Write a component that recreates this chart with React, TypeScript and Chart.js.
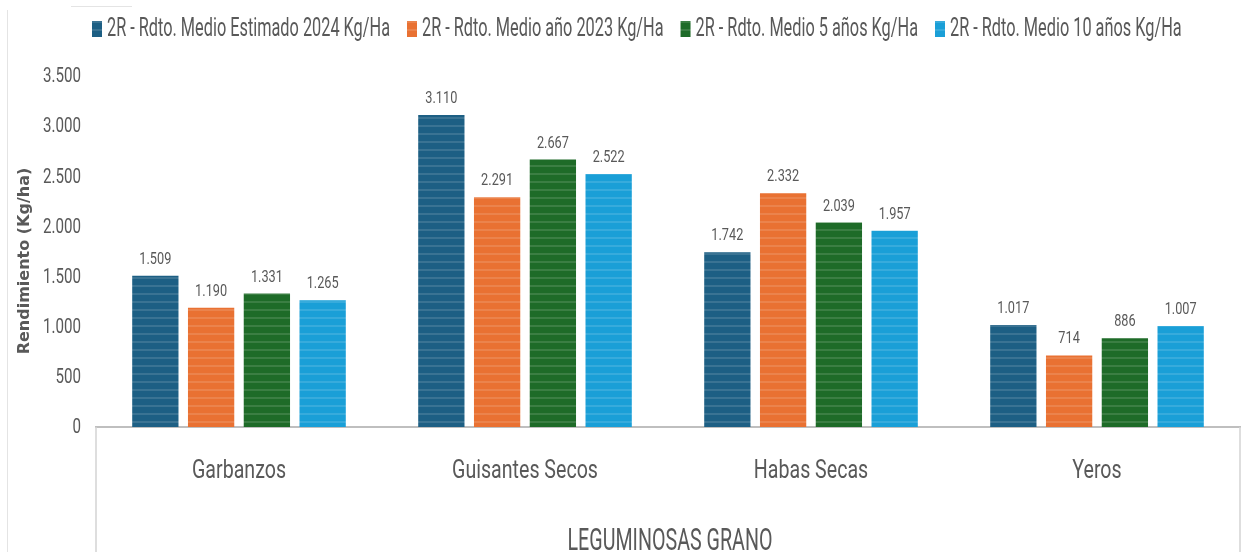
import React, { useEffect, useRef } from 'react';
import { Chart, registerables } from 'chart.js';

Chart.register(...registerables);

const categories = ['Garbanzos', 'Guisantes Secos', 'Habas Secas', 'Yeros'];
const seriesLabels = [
  '2R - Rdto. Medio Estimado 2024 Kg/Ha',
  '2R - Rdto. Medio año 2023 Kg/Ha',
  '2R - Rdto. Medio 5 años Kg/Ha',
  '2R - Rdto. Medio 10 años Kg/Ha',
];
const est2024 = [1509, 3110, 1742, 1017];
const year2023 = [1190, 2291, 2332, 714];
const avg5 = [1331, 2667, 2039, 886];
const avg10 = [1265, 2522, 1957, 1007];
const seriesValues = [est2024, year2023, avg5, avg10];
const seriesColors = ['#1D5F84', '#E97132', '#1E6B28', '#1A9FD7'];
const yMin = 0;
const yMax = 3500;
const yStep = 500;
const yTitle = 'Rendimiento (Kg/ha)';
const xTitle = 'LEGUMINOSAS GRANO';

const FONT = "Roboto, 'Noto Sans', sans-serif";
const TEXT = '#595959';

const fmt = (v: number) => String(Math.round(v)).replace(/\B(?=(\d{3})+(?!\d))/g, '.');

function stripe(color: string): CanvasPattern | string {
  const c = document.createElement('canvas');
  c.width = 8;
  c.height = 8;
  const g = c.getContext('2d');
  if (!g) return color;
  g.fillStyle = color;
  g.fillRect(0, 0, 8, 8);
  g.fillStyle = 'rgba(255,255,255,0.13)';
  g.fillRect(0, 5, 8, 2);
  return g.createPattern(c, 'repeat') || color;
}

// draw text horizontally condensed (narrow face look)
function narrowText(
  ctx: CanvasRenderingContext2D,
  text: string,
  x: number,
  y: number,
  size: number,
  sx: number,
  align: CanvasTextAlign,
  baseline: CanvasTextBaseline,
  weight = 'normal',
) {
  ctx.save();
  ctx.font = `${weight} ${size}px ${FONT}`;
  ctx.textAlign = align;
  ctx.textBaseline = baseline;
  ctx.translate(x, y);
  ctx.scale(sx, 1);
  ctx.fillText(text, 0, 0);
  ctx.restore();
}

function widthFactor(ctx: CanvasRenderingContext2D, text: string, size: number, target: number) {
  ctx.save();
  ctx.font = `normal ${size}px ${FONT}`;
  const w = ctx.measureText(text).width;
  ctx.restore();
  return w > 0 ? target / w : 1;
}

const decorPlugin = {
  id: 'decor',
  afterDraw(chart: any) {
    const { ctx, chartArea, height } = chart;
    ctx.save();
    // box lines below axis
    ctx.strokeStyle = '#D3D3D3';
    ctx.lineWidth = 1.5;
    ctx.beginPath();
    ctx.moveTo(chartArea.left, chartArea.bottom);
    ctx.lineTo(chartArea.left, height);
    ctx.moveTo(chartArea.right, chartArea.bottom);
    ctx.lineTo(chartArea.right, height);
    ctx.stroke();
    // faint frame remnants
    ctx.strokeStyle = '#E4E4E4';
    ctx.lineWidth = 1;
    ctx.beginPath();
    ctx.moveTo(7.5, 10);
    ctx.lineTo(7.5, height);
    ctx.moveTo(71, 6.5);
    ctx.lineTo(132, 6.5);
    ctx.stroke();
    ctx.fillStyle = TEXT;

    // y tick labels from the scale
    const ys = chart.scales.y;
    const sxY = widthFactor(ctx, fmt(yMax), 21, 38);
    ys.ticks.forEach((t: any) => {
      narrowText(ctx, fmt(t.value), chartArea.left - 15, ys.getPixelForValue(t.value) + 1, 21, sxY, 'right', 'middle');
    });

    // category labels from the scale
    const xs = chart.scales.x;
    const sxX = widthFactor(ctx, categories[0], 25, 94);
    chart.data.labels.forEach((lab: string, i: number) => {
      narrowText(ctx, lab, xs.getPixelForTick(i), chartArea.bottom + 51, 25, sxX, 'center', 'alphabetic');
    });

    // x title
    const sxT = widthFactor(ctx, xTitle, 32, 205);
    narrowText(ctx, xTitle, (chartArea.left + chartArea.right) / 2 + 2, 550, 32, sxT, 'center', 'alphabetic');

    // y title
    ctx.save();
    ctx.translate(25, 261);
    ctx.rotate(-Math.PI / 2);
    ctx.font = "bold 16px 'DejaVu Sans', sans-serif";
    ctx.textAlign = 'center';
    ctx.textBaseline = 'middle';
    ctx.fillStyle = TEXT;
    ctx.fillText(yTitle, 0, 0);
    ctx.restore();

    // data labels
    const sxD = widthFactor(ctx, '3.110', 17, 32);
    chart.data.datasets.forEach((ds: any, i: number) => {
      const meta = chart.getDatasetMeta(i);
      meta.data.forEach((bar: any, j: number) => {
        narrowText(ctx, fmt(ds.data[j]), bar.x, bar.y - 12, 17, sxD, 'center', 'alphabetic');
      });
    });

    // legend
    const sxL = widthFactor(ctx, seriesLabels[0], 26, 283);
    const boxW = 10;
    const boxH = 16;
    const textGap = 5;
    const itemGap = 17;
    let x = 92;
    chart.data.datasets.forEach((ds: any) => {
      ctx.font = `normal 26px ${FONT}`;
      const tw = ctx.measureText(ds.label).width * sxL;
      ctx.fillStyle = ds.backgroundColor;
      ctx.fillRect(x, 21, boxW, boxH);
      ctx.fillStyle = TEXT;
      narrowText(ctx, ds.label, x + boxW + textGap, 36, 26, sxL, 'left', 'alphabetic');
      x += boxW + textGap + tw + itemGap;
    });
    ctx.restore();
  },
};

export default function App() {
  const ref = useRef<HTMLCanvasElement | null>(null);
  useEffect(() => {
    document.body.style.margin = '0';
    const canvas = ref.current;
    if (!canvas) return;
    const chart = new Chart(canvas, {
      type: 'bar',
      data: {
        labels: categories,
        datasets: seriesValues.map((vals, i) => ({
          label: seriesLabels[i],
          data: vals,
          backgroundColor: stripe(seriesColors[i]) as any,
          borderWidth: 0,
          categoryPercentage: 0.78,
          barPercentage: 0.83,
        })),
      },
      options: {
        responsive: false,
        animation: false,
        layout: { padding: { top: 76, right: 13, left: 0, bottom: 0 } },
        plugins: {
          legend: { display: false },
          tooltip: { enabled: false },
        },
        scales: {
          x: {
            grid: { display: false, drawTicks: false },
            border: { display: true, color: '#BFBFBF', width: 2 },
            ticks: { display: false },
            afterFit: (s: any) => {
              s.height = 125;
            },
          },
          y: {
            min: yMin,
            max: yMax,
            grid: { display: false, drawTicks: false },
            border: { display: false },
            ticks: { display: false, stepSize: yStep },
            afterFit: (s: any) => {
              s.width = 96;
            },
          },
        },
      },
      plugins: [decorPlugin],
    });
    return () => chart.destroy();
  }, []);
  return (
    <div style={{ position: 'fixed', left: 0, top: 0, width: 1253, height: 552, background: '#fff' }}>
      <canvas ref={ref} width={1253} height={552} style={{ display: 'block' }} />
    </div>
  );
}
